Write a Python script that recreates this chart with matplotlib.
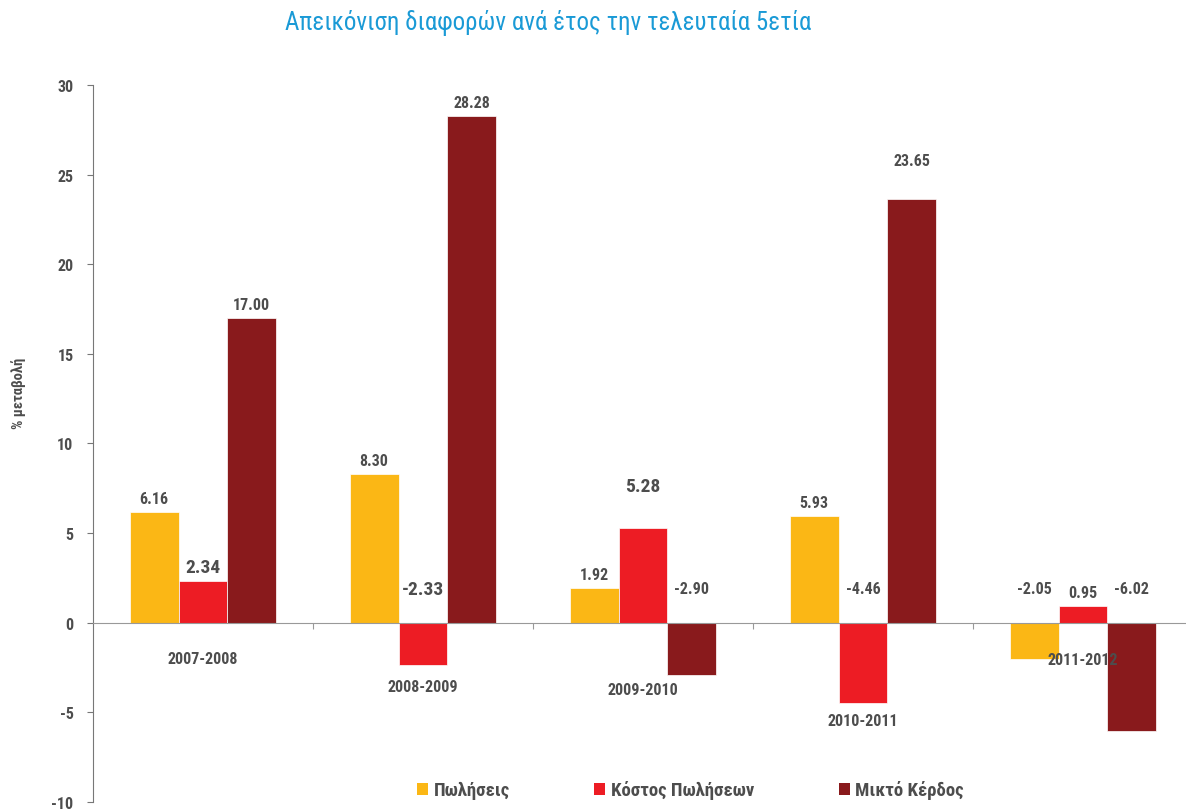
# -*- coding: utf-8 -*-
import numpy as np
import matplotlib
matplotlib.use('Agg')
import matplotlib.pyplot as plt
from matplotlib import font_manager
from matplotlib.patches import Patch

# narrow font if there is one, otherwise Roboto
names = set(f.name for f in font_manager.fontManager.ttflist)
font = 'DejaVu Sans'
for cand in ['Liberation Sans Narrow', 'Roboto Condensed', 'Noto Sans Condensed',
             'Open Sans Condensed', 'Roboto', 'Lato']:
    if cand in names:
        font = cand
        break
plt.rcParams['font.family'] = [font, 'DejaVu Sans']

periods = ['2007-2008', '2008-2009', '2009-2010', '2010-2011', '2011-2012']
series_names = ['Πωλήσεις', 'Κόστος Πωλήσεων', 'Μικτό Κέρδος']
sales = [6.16, 8.30, 1.92, 5.93, -2.05]
cost = [2.34, -2.33, 5.28, -4.46, 0.95]
profit = [17.00, 28.28, -2.90, 23.65, -6.02]
yticks = [-10, -5, 0, 5, 10, 15, 20, 25, 30]

colors = ['#fbb715', '#ed1c24', '#891a1c']
txt = '#4d4d4d'

# where the category names sit (data units), they are staggered in the original
cat_label_y = [-2.0, -3.55, -3.7, -5.45, -2.05]
# a few labels in the original are bigger / placed higher
big = {(1, 0), (1, 1), (1, 2)}
extra = {(1, 2): 1.6, (2, 3): 1.4}

fig = plt.figure(figsize=(11.86, 8.12), dpi=100)
ax = fig.add_axes([0.0784, 0.0111, 1 - 0.0784, 0.883])

x = np.arange(len(periods))
w = 0.222
for i, vals in enumerate([sales, cost, profit]):
    xs = x + (i - 1) * w
    ax.bar(xs, vals, w, color=colors[i], edgecolor='white', linewidth=0.5, zorder=2)
    for j, v in enumerate(vals):
        if v >= 0:
            ly = v + 0.75 + extra.get((i, j), 0)
        else:
            ly = 1.9
        size = 14 if (i, j) in big else 11.5
        ax.text(xs[j], ly, '%.2f' % v, ha='center', va='center', fontsize=size,
                fontweight='bold', color=txt)

for j, p in enumerate(periods):
    ax.text(x[j], cat_label_y[j], p, ha='center', va='center', fontsize=11.5,
            fontweight='bold', color=txt)

ax.set_xlim(-0.5, 4.468)
ax.set_ylim(-10, 30)
ax.set_yticks(yticks)
ax.set_yticklabels([str(t) for t in yticks], fontsize=11.5, fontweight='bold', color=txt)
ax.set_xticks(x[:-1] + 0.5)
ax.set_xticklabels([])
ax.tick_params(axis='x', direction='out', length=4, color='#999999')
ax.tick_params(axis='y', direction='out', length=4, color='#777777', pad=10)

ax.spines['bottom'].set_position(('data', 0))
ax.spines['bottom'].set_color('#999999')
ax.spines['left'].set_color('#777777')
ax.spines['top'].set_visible(False)
ax.spines['right'].set_visible(False)

fig.text(0.016, 0.515, '% μεταβολή', rotation=90, ha='center', va='center',
         fontsize=10.5, fontweight='bold', color=txt)
fig.text(0.462, 0.972, 'Απεικόνιση διαφορών ανά έτος την τελευταία 5ετία',
         ha='center', va='center', fontsize=18, color='#1a9ad6')

handles = [Patch(facecolor=c, edgecolor='none') for c in colors]
leg = fig.legend(handles, series_names, loc='center', bbox_to_anchor=(0.582, 0.026),
                 ncol=3, frameon=False, handlelength=0.6, handleheight=0.6,
                 handletextpad=0.3, columnspacing=4.5,
                 prop={'size': 13.5, 'weight': 'bold'})
for t in leg.get_texts():
    t.set_color(txt)

fig.savefig('out.png', dpi=100)
